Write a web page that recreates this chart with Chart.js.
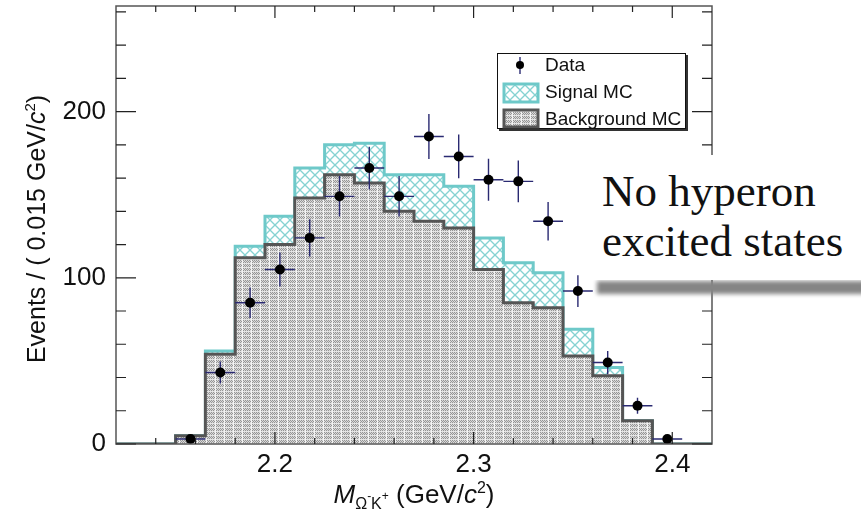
<!DOCTYPE html>
<html>
<head>
<meta charset="utf-8">
<script src="https://cdn.jsdelivr.net/npm/chart.js@4.4.1/dist/chart.umd.min.js"></script>
<style>
body { margin: 0; background: #fff; }
#wrap { position: relative; width: 861px; height: 512px; overflow: hidden; }
#note { position: absolute; left: 592px; top: 155px; width: 269px; height: 125px; background: #fff;
  font-family: "Liberation Serif", serif; font-size: 45px; line-height: 49.5px; letter-spacing: 0px;
  padding: 12px 0 0 10px; box-sizing: border-box; color: #111; }
#shade { position: absolute; left: 597px; top: 281px; width: 280px; height: 13px; background: #858585; filter: blur(2px); }
</style>
</head>
<body>
<div id="wrap">
  <canvas id="chart" width="861" height="512"></canvas>
  <div id="shade"></div>
  <div id="note">No hyperon<br>excited states</div>
</div>
<script>
// bins of 0.015 GeV/c2 from 2.12 to 2.42
const binEdges = [2.12, 2.135, 2.15, 2.165, 2.18, 2.195, 2.21, 2.225, 2.24, 2.255, 2.27,
                  2.285, 2.30, 2.315, 2.33, 2.345, 2.36, 2.375, 2.39, 2.405, 2.42];
const dataCounts = [0, 0, 3, 43, 85, 105, 124, 149, 166, 149, 185, 173, 159, 158, 134, 92, 49, 23, 3, 0];
const bkgMC      = [0, 0, 5, 54, 112, 120, 148, 162, 157, 140, 134, 130, 105, 85, 82, 53, 41, 14, 0, 0];
const signalMC   = [0, 0, 0, 2, 7, 17, 18, 18, 24, 22, 28, 25, 19, 24, 21, 16, 5, 0, 0, 0];

const xTickValues = [2.2, 2.3, 2.4];
const yTickValues = [0, 100, 200];

const cyan = '#6ec9c9';
const navy = '#2a2a72';
const bkgLine = '#555555';

// stepped outline points for a histogram
function histPoints(vals) {
  const pts = [];
  vals.forEach((v, i) => {
    pts.push({ x: binEdges[i], y: v });
    pts.push({ x: binEdges[i + 1], y: v });
  });
  return pts;
}

const totalMC = bkgMC.map((b, i) => b + signalMC[i]);
const dataPoints = [];
dataCounts.forEach((n, i) => {
  if (n > 0) dataPoints.push({ x: (binEdges[i] + binEdges[i + 1]) / 2, y: n });
});

// fill patterns
function hatchPattern() {
  const c = document.createElement('canvas');
  c.width = 10; c.height = 10;
  const g = c.getContext('2d');
  g.fillStyle = '#fff';
  g.fillRect(0, 0, 10, 10);
  g.strokeStyle = '#86d2d2';
  g.lineWidth = 1.3;
  for (const o of [-10, 0, 10]) {
    g.beginPath(); g.moveTo(o, 0); g.lineTo(o + 10, 10); g.stroke();
    g.beginPath(); g.moveTo(o, 10); g.lineTo(o + 10, 0); g.stroke();
  }
  return g.createPattern(c, 'repeat');
}
function greyPattern() {
  const c = document.createElement('canvas');
  c.width = 9; c.height = 8;
  const g = c.getContext('2d');
  for (let y = 0; y < 8; y++) {
    for (let x = 0; x < 9; x++) {
      if (x == 8) g.fillStyle = '#f4f4f4';
      else if (y == 7 || y == 3) g.fillStyle = '#e4e4e4';
      else g.fillStyle = ((x + y) % 2 == 0) ? '#959595' : '#dadada';
      g.fillRect(x, y, 1, 1);
    }
  }
  return g.createPattern(c, 'repeat');
}
const hatch = hatchPattern();
const grey = greyPattern();

const errorBars = {
  id: 'errorBars',
  beforeDatasetDraw(chart, args) {
    if (args.index !== 0) return;
    const ctx = chart.ctx, xs = chart.scales.x, ys = chart.scales.y;
    ctx.save();
    ctx.strokeStyle = navy;
    ctx.lineWidth = 1.4;
    dataCounts.forEach((n, i) => {
      if (n <= 0) return;
      const err = Math.sqrt(n);
      const cx = xs.getPixelForValue((binEdges[i] + binEdges[i + 1]) / 2);
      const cy = ys.getPixelForValue(n);
      ctx.beginPath();
      ctx.moveTo(xs.getPixelForValue(binEdges[i]), cy);
      ctx.lineTo(xs.getPixelForValue(binEdges[i + 1]), cy);
      ctx.moveTo(cx, ys.getPixelForValue(n - err));
      ctx.lineTo(cx, ys.getPixelForValue(n + err));
      ctx.stroke();
    });
    ctx.restore();
  }
};

const frame = {
  id: 'frame',
  afterDatasetsDraw(chart) {
    const ctx = chart.ctx, xs = chart.scales.x, ys = chart.scales.y;
    const { left, right, top, bottom } = chart.chartArea;
    ctx.save();
    ctx.strokeStyle = '#555';
    ctx.lineWidth = 1.5;
    ctx.strokeRect(left, top, right - left, bottom - top);
    ctx.strokeStyle = '#222';
    ctx.lineWidth = 1.2;
    ctx.beginPath();
    for (let v = 0; v <= 260; v += 20) {
      const y = ys.getPixelForValue(v);
      const len = v % 100 == 0 ? 20 : 10;
      ctx.moveTo(left, y); ctx.lineTo(left + len, y);
      ctx.moveTo(right, y); ctx.lineTo(right - len, y);
    }
    for (let k = 1; k <= 14; k++) {
      const v = 2.12 + 0.02 * k;
      const x = xs.getPixelForValue(v);
      const major = xTickValues.some(t => Math.abs(t - v) < 1e-6);
      const len = major ? 12 : 6;
      ctx.moveTo(x, top); ctx.lineTo(x, top + len);
      ctx.moveTo(x, bottom); ctx.lineTo(x, bottom - len);
    }
    ctx.stroke();
    ctx.restore();
  }
};

function runsWidth(ctx, runs) {
  let w = 0;
  runs.forEach(r => { ctx.font = r.f; w += ctx.measureText(r.t).width; });
  return w;
}
function drawRuns(ctx, runs, x, y) {
  runs.forEach(r => {
    ctx.font = r.f;
    ctx.fillText(r.t, x, y + (r.dy || 0));
    x += ctx.measureText(r.t).width;
  });
}

const sans = '"Liberation Sans", Arial, sans-serif';

const overlay = {
  id: 'overlay',
  afterDraw(chart) {
    const ctx = chart.ctx;
    ctx.save();
    ctx.fillStyle = '#111';
    ctx.textBaseline = 'alphabetic';
    ctx.textAlign = 'left';

    // x axis title
    const xRuns = [
      { t: 'M', f: 'italic 26px ' + sans },
      { t: '\u03A9', f: '16px ' + sans, dy: 6 },
      { t: '-', f: '12px ' + sans, dy: -3 },
      { t: 'K', f: '16px ' + sans, dy: 6 },
      { t: '+', f: '12px ' + sans, dy: -3 },
      { t: ' (GeV/', f: '26px ' + sans },
      { t: 'c', f: 'italic 26px ' + sans },
      { t: '2', f: '16px ' + sans, dy: -10 },
      { t: ')', f: '26px ' + sans }
    ];
    const xw = runsWidth(ctx, xRuns);
    drawRuns(ctx, xRuns, 414 - xw / 2, 503);

    // y axis title
    const yRuns = [
      { t: 'Events / ( 0.015 GeV/', f: '25px ' + sans },
      { t: 'c', f: 'italic 25px ' + sans },
      { t: '2', f: '15px ' + sans, dy: -10 },
      { t: ')', f: '25px ' + sans }
    ];
    const yw = runsWidth(ctx, yRuns);
    ctx.save();
    ctx.translate(36, 229);
    ctx.rotate(-Math.PI / 2);
    drawRuns(ctx, yRuns, -yw / 2, 9);
    ctx.restore();

    // legend box
    ctx.fillStyle = '#333';
    ctx.fillRect(499, 129, 189, 2);
    ctx.fillRect(686, 55, 2, 76);
    ctx.fillStyle = '#fff';
    ctx.fillRect(497, 53, 189, 76);
    ctx.strokeStyle = '#111';
    ctx.lineWidth = 1;
    ctx.strokeRect(497.5, 53.5, 188, 75);

    ctx.strokeStyle = navy;
    ctx.lineWidth = 1.4;
    ctx.beginPath(); ctx.moveTo(520, 57); ctx.lineTo(520, 74); ctx.stroke();
    ctx.fillStyle = '#000';
    ctx.beginPath(); ctx.arc(520, 65, 4, 0, Math.PI * 2); ctx.fill();

    ctx.fillStyle = hatch;
    ctx.fillRect(504, 84, 34, 18);
    ctx.strokeStyle = cyan; ctx.lineWidth = 3;
    ctx.strokeRect(504, 84, 34, 18);

    ctx.fillStyle = grey;
    ctx.fillRect(504, 110, 34, 17);
    ctx.strokeStyle = bkgLine; ctx.lineWidth = 3;
    ctx.strokeRect(504, 110, 34, 17);

    ctx.fillStyle = '#111';
    ctx.font = '19px ' + sans;
    ctx.textBaseline = 'middle';
    ctx.fillText('Data', 545, 66);
    ctx.fillText('Signal MC', 545, 93);
    ctx.fillText('Background MC', 545, 120);
    ctx.restore();
  }
};

function noPad(s) {
  s.paddingTop = 0; s.paddingBottom = 0;
  s.paddingLeft = 0; s.paddingRight = 0;
}

new Chart(document.getElementById('chart'), {
  type: 'scatter',
  data: {
    datasets: [
      {
        label: 'Data',
        data: dataPoints,
        pointRadius: 5,
        pointBackgroundColor: '#000',
        pointBorderWidth: 0
      },
      {
        type: 'line',
        label: 'Background MC',
        data: histPoints(bkgMC),
        borderColor: bkgLine,
        borderWidth: 3,
        backgroundColor: grey,
        fill: 'origin',
        pointRadius: 0,
        tension: 0
      },
      {
        type: 'line',
        label: 'Signal MC',
        data: histPoints(totalMC),
        borderColor: cyan,
        borderWidth: 3,
        backgroundColor: hatch,
        fill: 'origin',
        pointRadius: 0,
        tension: 0
      }
    ]
  },
  options: {
    responsive: false,
    animation: false,
    devicePixelRatio: 1,
    layout: { padding: { top: 6, right: 149, left: 0, bottom: 0 } },
    plugins: { legend: { display: false }, tooltip: { enabled: false } },
    scales: {
      x: {
        type: 'linear',
        min: 2.12,
        max: 2.42,
        afterBuildTicks: s => { s.ticks = xTickValues.map(v => ({ value: v })); },
        afterFit: s => { s.height = 68; noPad(s); },
        grid: { display: false, drawTicks: false },
        border: { display: false },
        ticks: {
          padding: 5, maxRotation: 0, autoSkip: false, color: '#111',
          font: { family: 'Liberation Sans', size: 26 },
          callback: v => v.toFixed(1)
        }
      },
      y: {
        min: 0,
        max: 263.5,
        afterBuildTicks: s => { s.ticks = yTickValues.map(v => ({ value: v })); },
        afterFit: s => { s.width = 116; noPad(s); },
        grid: { display: false, drawTicks: false },
        border: { display: false },
        ticks: {
          padding: 10, color: '#111',
          font: { family: 'Liberation Sans', size: 26 },
          callback: v => String(v)
        }
      }
    }
  },
  plugins: [errorBars, frame, overlay]
});
</script>
</body>
</html>
